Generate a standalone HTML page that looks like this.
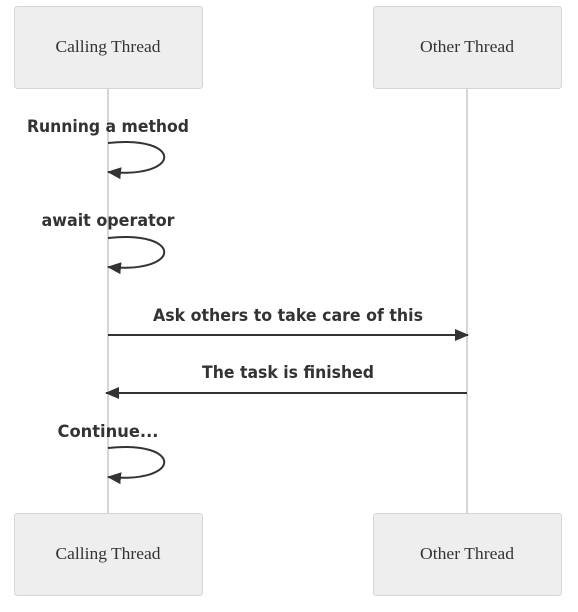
<!DOCTYPE html>
<html><head><style>body{margin:0;background:#fff}</style></head><body>
<svg width="578" height="607" viewBox="0 0 578 607" xmlns="http://www.w3.org/2000/svg">
<defs><marker id="a" markerWidth="14" markerHeight="12" refX="13" refY="6" orient="auto" markerUnits="userSpaceOnUse"><path d="M0,0 L14,6 L0,12 z" fill="#333"/></marker></defs>
<line x1="108" y1="88" x2="108" y2="513" stroke="#d6d6d6" stroke-width="2"/>
<line x1="467" y1="88" x2="467" y2="513" stroke="#d6d6d6" stroke-width="2"/>
<g fill="#eee" stroke="#d6d6d6" stroke-width="1">
<rect x="14.5" y="6.5" width="188" height="82" rx="3"/>
<rect x="373.5" y="6.5" width="188" height="82" rx="3"/>
<rect x="14.5" y="513.5" width="188" height="82" rx="3"/>
<rect x="373.5" y="513.5" width="188" height="82" rx="3"/>
</g>
<g font-family="Liberation Serif, serif" font-size="17" fill="#333" text-anchor="middle">
<text x="108" y="52" textLength="105" lengthAdjust="spacingAndGlyphs">Calling Thread</text>
<text x="467" y="52" textLength="94" lengthAdjust="spacingAndGlyphs">Other Thread</text>
<text x="108" y="559" textLength="105" lengthAdjust="spacingAndGlyphs">Calling Thread</text>
<text x="467" y="559" textLength="94" lengthAdjust="spacingAndGlyphs">Other Thread</text>
</g>
<g font-family="DejaVu Sans, sans-serif" font-weight="bold" font-size="17" fill="#333" text-anchor="middle">
<text x="108" y="132" textLength="162" lengthAdjust="spacingAndGlyphs">Running a method</text>
<text x="108" y="226" textLength="133" lengthAdjust="spacingAndGlyphs">await operator</text>
<text x="288" y="321" textLength="270" lengthAdjust="spacingAndGlyphs">Ask others to take care of this</text>
<text x="288" y="378" textLength="172" lengthAdjust="spacingAndGlyphs">The task is finished</text>
<text x="108" y="437" textLength="101" lengthAdjust="spacingAndGlyphs">Continue...</text>
</g>
<g fill="none" stroke="#333" stroke-width="2">
<path d="M108,143 C183,135 183,179 108,172" marker-end="url(#a)"/>
<path d="M108,238 C183,230 183,274 108,267" marker-end="url(#a)"/>
<path d="M108,448 C183,440 183,484 108,477" marker-end="url(#a)"/>
<line x1="108" y1="335" x2="468" y2="335" marker-end="url(#a)"/>
<line x1="467" y1="393" x2="106" y2="393" marker-end="url(#a)"/>
</g>
</svg>
</body></html>
